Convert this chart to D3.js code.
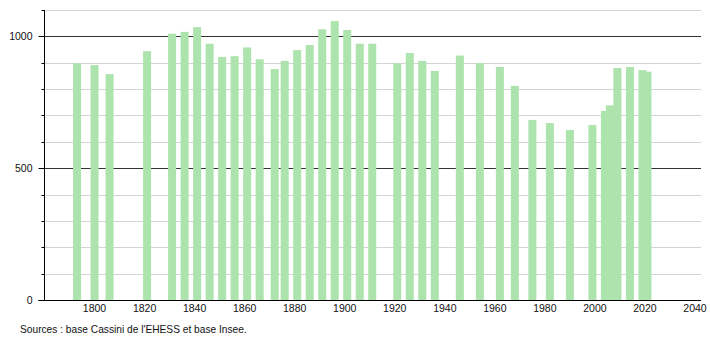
<!DOCTYPE html>
<html>
<head>
<meta charset="utf-8">
<script src="https://cdn.jsdelivr.net/npm/d3@7"></script>
<style>
  body { margin: 0; background: #fff; }
  text { font-family: "Liberation Sans", Arial, sans-serif; }
</style>
</head>
<body>
<div id="chart"></div>
<script>
const width = 710;
const height = 340;

// census years and population
const years = [1793, 1800, 1806, 1821, 1831, 1836, 1841, 1846, 1851, 1856,
  1861, 1866, 1872, 1876, 1881, 1886, 1891, 1896, 1901, 1906,
  1911, 1921, 1926, 1931, 1936, 1946, 1954, 1962, 1968, 1975,
  1982, 1990, 1999, 2004, 2006, 2009, 2014, 2019, 2021];
const population = [898, 891, 857, 944, 1010, 1017, 1035, 972, 922, 925,
  958, 913, 876, 907, 948, 967, 1027, 1058, 1024, 972,
  972, 898, 937, 907, 869, 927, 898, 884, 812, 683,
  671, 645, 664, 717, 738, 880, 884, 872, 866];
const xTicks = [1800, 1820, 1840, 1860, 1880, 1900, 1920, 1940, 1960, 1980, 2000, 2020, 2040];
const yLabels = [0, 500, 1000];
const yGrid = d3.range(100, 1101, 100);

const margin = {top: 10, right: 9, bottom: 40, left: 44.5};

const x = d3.scaleLinear()
    .domain([1780, 2042.4])
    .range([margin.left, width - margin.right]);

const y = d3.scaleLinear()
    .domain([0, 1100])
    .range([height - margin.bottom, margin.top]);

const svg = d3.select("#chart")
  .append("svg")
    .attr("width", width)
    .attr("height", height)
    .style("display", "block");

// grid lines
svg.append("g")
  .selectAll("line")
  .data(yGrid)
  .join("line")
    .attr("x1", margin.left)
    .attr("x2", width - margin.right)
    .attr("y1", d => Math.round(y(d)) + 0.5)
    .attr("y2", d => Math.round(y(d)) + 0.5)
    .attr("stroke", d => d % 500 === 0 ? "#333" : "#d4d4d4")
    .attr("stroke-width", 1);

// bars
const barW = 8;
svg.append("g")
  .selectAll("rect")
  .data(years.map((yr, i) => ({year: yr, value: population[i]})))
  .join("rect")
    .attr("x", d => x(d.year) - barW / 2)
    .attr("y", d => y(d.value))
    .attr("width", barW)
    .attr("height", d => y(0) - y(d.value))
    .attr("fill", "#ade3ad");

// left axis line + ticks
const y0 = Math.round(y(0)) + 0.5;
svg.append("line")
  .attr("x1", margin.left).attr("x2", margin.left)
  .attr("y1", margin.top).attr("y2", y0)
  .attr("stroke", "#000");

svg.append("g")
  .selectAll("line")
  .data(d3.range(0, 1101, 100))
  .join("line")
    .attr("x1", d => d % 500 === 0 ? margin.left - 6 : margin.left - 3)
    .attr("x2", margin.left)
    .attr("y1", d => Math.round(y(d)) + 0.5)
    .attr("y2", d => Math.round(y(d)) + 0.5)
    .attr("stroke", "#000");

// bottom axis
svg.append("line")
  .attr("x1", margin.left - 6).attr("x2", width - margin.right)
  .attr("y1", y0).attr("y2", y0)
  .attr("stroke", "#000");

svg.append("g")
  .style("font-size", "10.5px")
  .attr("text-anchor", "end")
  .selectAll("text")
  .data(yLabels)
  .join("text")
    .attr("x", margin.left - 12)
    .attr("y", d => y(d))
    .attr("dy", "0.35em")
    .attr("fill", "#111")
    .text(d => d);

svg.append("g")
  .style("font-size", "10.5px")
  .attr("text-anchor", "middle")
  .selectAll("text")
  .data(xTicks)
  .join("text")
    .attr("x", d => x(d))
    .attr("y", y(0) + 12)
    .attr("fill", "#111")
    .text(d => d);

svg.append("text")
  .attr("x", 20)
  .attr("y", 333)
  .style("font-size", "10.2px")
  .attr("fill", "#111")
  .text("Sources : base Cassini de l'EHESS et base Insee.");
</script>
</body>
</html>
